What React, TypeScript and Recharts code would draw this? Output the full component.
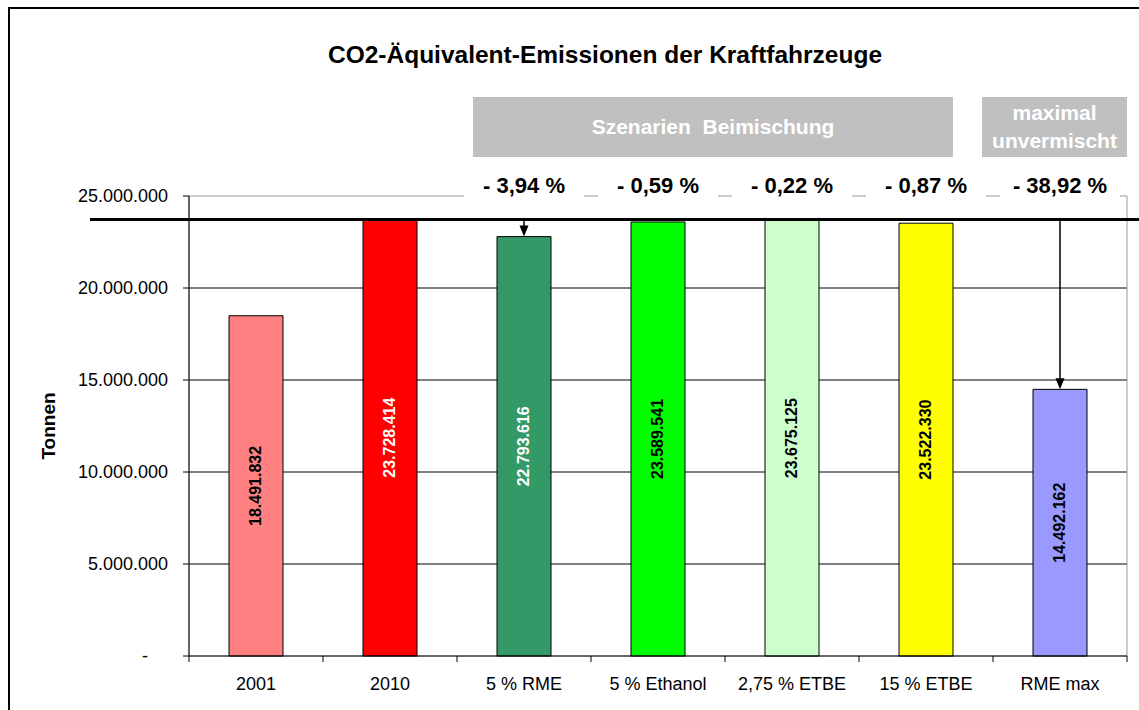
import React from 'react';
import {
  BarChart,
  Bar,
  XAxis,
  YAxis,
  CartesianGrid,
  Cell,
  LabelList,
  ReferenceLine,
  ReferenceArea,
  ReferenceDot,
} from 'recharts';

const categories = ['2001', '2010', '5 % RME', '5 % Ethanol', '2,75 % ETBE', '15 % ETBE', 'RME max'];
const emissions = [18491832, 23728414, 22793616, 23589541, 23675125, 23522330, 14492162];
const yTicks = [0, 5000000, 10000000, 15000000, 20000000, 25000000];
const changeCategories = ['5 % RME', '5 % Ethanol', '2,75 % ETBE', '15 % ETBE', 'RME max'];
const changeLabels = ['- 3,94 %', '- 0,59 %', '- 0,22 %', '- 0,87 %', '- 38,92 %'];
const arrowCategories = ['5 % RME', 'RME max'];
const baselineIndex = 1; // 2010 is the reference

const barColors = ['#FF8080', '#FF0000', '#339966', '#00FF00', '#CCFFCC', '#FFFF00', '#9999FF'];
const labelColors = ['#000', '#fff', '#fff', '#000', '#000', '#000', '#000'];

const FONT = '"Liberation Sans", Arial, sans-serif';

const data = categories.map((name, i) => ({ name, value: emissions[i] }));

const fmt = (n: number) => Math.round(n).toString().replace(/\B(?=(\d{3})+(?!\d))/g, '.');

const YTick = (props: any) => {
  const { x, y, payload } = props;
  const zero = payload.value === 0;
  return (
    <text
      x={zero ? x - 23 : x}
      y={y}
      dy="0.35em"
      textAnchor={zero ? 'middle' : 'end'}
      fontSize={18}
      fontFamily={FONT}
      fill="#000"
    >
      {zero ? '-' : fmt(payload.value)}
    </text>
  );
};

const XTick = (props: any) => {
  const { x, y, payload, index, visibleTicksCount } = props;
  const half = payload.offset ?? 67;
  const axisY = y - 8;
  return (
    <g>
      <line x1={x - half} x2={x - half} y1={axisY} y2={axisY + 6} stroke="#000" />
      {index === visibleTicksCount - 1 && (
        <line x1={x + half} x2={x + half} y1={axisY} y2={axisY + 6} stroke="#000" />
      )}
      <text x={x} y={axisY + 28} dy="0.35em" textAnchor="middle" fontSize={18} fontFamily={FONT} fill="#000">
        {payload.value}
      </text>
    </g>
  );
};

const BarValue = (props: any) => {
  const { x, y, width, height, value } = props;
  const i = emissions.indexOf(value);
  const cx = x + width / 2;
  const cy = y + height / 2;
  return (
    <text
      x={cx}
      y={cy}
      transform={`rotate(-90 ${cx} ${cy})`}
      textAnchor="middle"
      dominantBaseline="central"
      fontSize={16}
      fontWeight="bold"
      fontFamily={FONT}
      fill={labelColors[i] || '#000'}
    >
      {fmt(value)}
    </text>
  );
};

const changeBadge = (text: string) => (props: any) => {
  const { cx, cy } = props;
  return (
    <g>
      <rect x={cx - 60} y={cy - 32} width={120} height={35} fill="#fff" />
      <text
        x={cx}
        y={cy - 11}
        textAnchor="middle"
        dominantBaseline="central"
        fontSize={22}
        fontWeight="bold"
        fontFamily={FONT}
        fill="#000"
      >
        {text}
      </text>
    </g>
  );
};

const BaselineShape = (props: any) => {
  const left = Math.min(props.x1, props.x2);
  const right = Math.max(props.x1, props.x2);
  return <line x1={left - 99} x2={right + 12} y1={props.y1} y2={props.y2} stroke="#000" strokeWidth={3} />;
};

const ArrowShape = (props: any) => {
  const { x1, y1, x2, y2 } = props;
  return (
    <g>
      <line x1={x1} y1={y1} x2={x2} y2={y2 - 9} stroke="#000" strokeWidth={1.5} />
      <polygon points={`${x2 - 4.5},${y2 - 11} ${x2 + 4.5},${y2 - 11} ${x2},${y2}`} fill="#000" />
    </g>
  );
};

const AxisTitle = (props: any) => {
  const vb = props.viewBox || {};
  const x = (vb.x ?? 30) + 18;
  const y = (vb.y ?? 196) + (vb.height ?? 460) / 2;
  return (
    <text
      x={x}
      y={y}
      transform={`rotate(-90 ${x} ${y})`}
      textAnchor="middle"
      dominantBaseline="central"
      fontSize={19}
      fontWeight="bold"
      fontFamily={FONT}
      fill="#000"
    >
      Tonnen
    </text>
  );
};

const greyBox: React.CSSProperties = {
  position: 'absolute',
  top: 97,
  height: 60,
  background: '#C0C0C0',
  color: '#fff',
  fontFamily: FONT,
  fontWeight: 'bold',
  fontSize: 21,
  display: 'flex',
  alignItems: 'center',
  justifyContent: 'center',
  textAlign: 'center',
  whiteSpace: 'pre',
  lineHeight: '28px',
};

export default function App() {
  const top = yTicks[yTicks.length - 1];
  const baseline = emissions[baselineIndex];
  return (
    <div style={{ position: 'absolute', left: 0, top: 0, width: 1139, height: 710, overflow: 'hidden', background: '#fff' }}>
      <div
        style={{
          position: 'absolute',
          left: 8,
          top: 7,
          width: 1160,
          height: 740,
          border: '2px solid #000',
          boxSizing: 'border-box',
        }}
      />
      <div style={{ position: 'absolute', left: 0, top: 0 }}>
        <BarChart width={1139} height={710} data={data} margin={{ top: 196, right: 12, bottom: 14, left: 30 }}>
          <CartesianGrid horizontal vertical={false} stroke="#000" horizontalValues={yTicks.slice(1, -1)} />
          <ReferenceArea y1={0} y2={top} fill="none" stroke="#999" strokeWidth={1} />
          <XAxis
            dataKey="name"
            height={40}
            axisLine={{ stroke: '#000' }}
            tickLine={{ stroke: 'none' }}
            tickSize={6}
            tickMargin={2}
            interval={0}
            tick={<XTick />}
          />
          <YAxis
            width={159}
            domain={[0, top]}
            ticks={yTicks}
            axisLine={{ stroke: '#000' }}
            tickLine={{ stroke: '#000' }}
            tickSize={6}
            tickMargin={15}
            tick={<YTick />}
            label={<AxisTitle />}
          />
          <Bar dataKey="value" barSize={54} stroke="#000" strokeWidth={1} isAnimationActive={false}>
            {data.map((d, i) => (
              <Cell key={d.name} fill={barColors[i]} />
            ))}
            <LabelList dataKey="value" content={<BarValue />} />
          </Bar>
          <ReferenceLine y={baseline} shape={BaselineShape} />
          {arrowCategories.map((cat) => (
            <ReferenceLine
              key={cat}
              segment={[
                { x: cat, y: baseline },
                { x: cat, y: emissions[categories.indexOf(cat)] },
              ]}
              shape={ArrowShape}
            />
          ))}
          {changeCategories.map((cat, i) => (
            <ReferenceDot key={cat} x={cat} y={top} r={0} shape={changeBadge(changeLabels[i])} />
          ))}
        </BarChart>
      </div>
      <div
        style={{
          position: 'absolute',
          left: 0,
          top: 41,
          width: 1210,
          textAlign: 'center',
          fontFamily: FONT,
          fontWeight: 'bold',
          fontSize: 24.5,
          lineHeight: '28px',
        }}
      >
        CO2-Äquivalent-Emissionen der Kraftfahrzeuge
      </div>
      <div style={{ ...greyBox, left: 473, width: 480 }}>{'Szenarien  Beimischung'}</div>
      <div style={{ ...greyBox, left: 982, width: 145 }}>{'maximal\nunvermischt'}</div>
    </div>
  );
}
